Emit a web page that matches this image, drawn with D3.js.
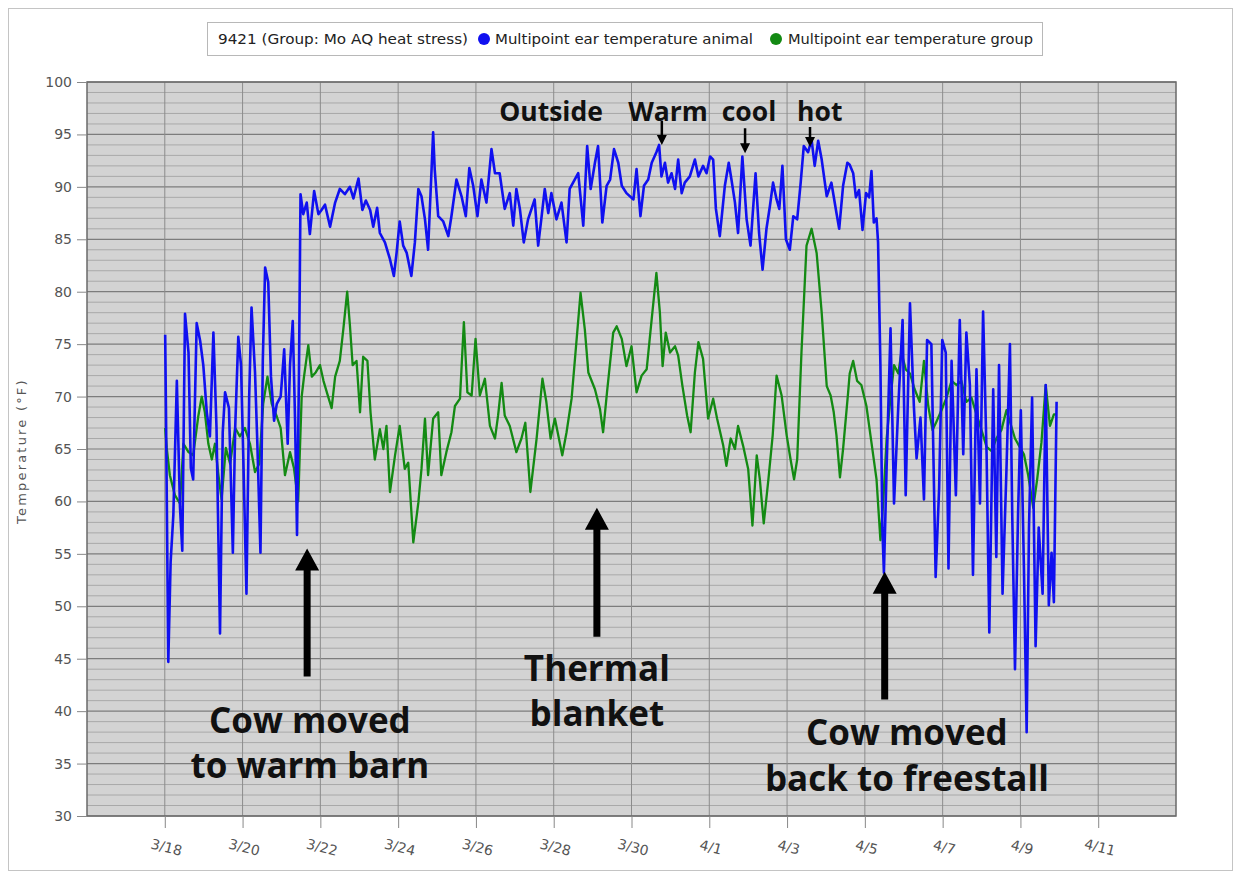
<!DOCTYPE html>
<html>
<head>
<meta charset="utf-8">
<script src="https://cdn.jsdelivr.net/npm/d3@7"></script>
<style>
    body { margin: 0; background: #fff; }
    .tick-label { font-family: "DejaVu Sans", sans-serif; font-size: 14px; fill: #555; }
    .legend-text { font-family: "DejaVu Sans", sans-serif; font-size: 13.5px; fill: #222; }
    .note { font-family: "Open Sans", sans-serif; font-weight: 700; fill: #111; }
</style>
</head>
<body>
<div id="chart" style="width:1241px;height:880px;"></div>
<script>

// day values are "day of March" (32 = April 1)
const animalDay = [18.01,18.03,18.09,18.15,18.22,18.31,18.39,18.45,18.52,18.61,18.67,18.73,18.82,18.91,18.99,19.08,19.16,19.25,19.33,19.42,
    19.49,19.55,19.65,19.75,19.81,19.89,19.96,20.02,20.10,20.17,20.23,20.32,20.38,20.46,20.52,20.58,20.66,20.73,20.81,20.88,
    20.98,21.07,21.16,21.22,21.29,21.35,21.40,21.45,21.49,21.56,21.65,21.73,21.84,21.95,22.03,22.12,22.25,22.38,22.50,22.63,
    22.76,22.85,22.98,23.08,23.17,23.28,23.36,23.46,23.53,23.66,23.79,23.89,23.96,24.04,24.13,24.22,24.34,24.43,24.52,24.60,
    24.69,24.77,24.86,24.90,24.94,25.03,25.16,25.29,25.37,25.50,25.63,25.74,25.83,25.93,26.04,26.14,26.27,26.40,26.49,26.61,
    26.74,26.87,26.96,27.04,27.13,27.23,27.34,27.43,27.51,27.60,27.69,27.77,27.86,27.94,28.07,28.20,28.33,28.41,28.54,28.63,
    28.76,28.86,28.95,29.06,29.14,29.25,29.36,29.45,29.55,29.66,29.75,29.87,30.05,30.13,30.23,30.32,30.43,30.52,30.64,30.71,
    30.77,30.86,30.94,31.03,31.12,31.20,31.29,31.37,31.50,31.63,31.72,31.84,31.93,32.02,32.10,32.17,32.27,32.40,32.50,32.57,
    32.66,32.74,32.85,32.96,33.06,33.19,33.28,33.37,33.47,33.56,33.64,33.73,33.80,33.88,33.97,34.07,34.16,34.26,34.35,34.43,
    34.54,34.63,34.71,34.80,34.89,35.02,35.14,35.27,35.34,35.44,35.55,35.61,35.70,35.77,35.85,35.94,36.03,36.11,36.17,36.23,
    36.30,36.34,36.40,36.45,36.49,36.56,36.66,36.75,36.86,36.97,37.05,37.16,37.26,37.33,37.43,37.52,37.60,37.71,37.82,37.91,
    37.99,38.08,38.15,38.23,38.34,38.44,38.53,38.61,38.70,38.78,38.87,38.96,39.04,39.13,39.20,39.30,39.38,39.45,39.54,39.64,
    39.73,39.79,39.86,39.94,40.01,40.09,40.16,40.22,40.30,40.39,40.47,40.57,40.65,40.73,40.80,40.86,40.93];

const animalTemp = [75.9,68.9,44.7,54.2,58.7,71.5,59.5,55.3,77.9,74.2,63.2,62.1,77.0,75.3,73.0,68.5,66.2,76.1,67.0,47.4,
    66.6,70.4,68.9,55.1,67.0,75.7,73.0,64.0,51.2,70.0,78.5,72.3,65.5,55.1,73.4,82.3,80.9,71.9,67.7,69.3,
    70.0,74.5,65.5,73.0,77.2,67.7,56.8,72.3,89.3,87.4,88.5,85.5,89.6,87.4,87.8,88.3,86.2,88.5,89.8,89.3,
    90.0,88.9,90.8,87.8,88.7,87.8,86.2,88.0,85.6,84.7,83.1,81.5,83.7,86.7,84.4,83.7,81.5,84.7,89.8,89.1,
    86.9,84.0,91.7,95.2,91.7,87.2,86.7,85.3,87.2,90.7,89.1,87.2,91.8,90.1,87.2,90.7,88.5,93.6,91.3,91.3,
    87.9,89.4,86.3,89.8,87.9,84.7,86.9,87.9,88.8,84.4,87.2,89.8,87.5,89.4,86.9,88.5,84.7,89.8,90.7,91.3,
    86.3,93.9,89.8,92.3,93.9,86.6,90.1,90.7,93.6,92.3,90.1,89.4,88.8,91.7,87.2,90.1,90.7,92.3,93.3,94.0,
    91.0,92.3,90.4,91.3,89.8,92.6,89.4,90.4,91.0,92.6,91.0,92.0,91.3,92.9,92.6,87.9,85.3,90.1,92.3,90.7,
    88.5,85.6,92.9,86.9,84.4,91.3,85.6,82.1,86.0,88.2,90.4,88.8,87.9,92.0,85.0,84.0,87.2,86.9,90.4,93.9,
    93.3,94.5,92.0,94.4,92.6,89.1,90.4,87.5,86.0,90.1,92.3,92.1,91.3,89.0,89.7,85.9,89.4,89.0,91.5,86.6,
    87.0,84.7,73.0,57.5,53.2,63.3,76.5,59.8,69.1,77.3,60.6,78.9,69.1,64.1,68.0,60.2,75.4,75.0,52.8,61.3,
    75.4,74.2,53.6,73.4,60.6,77.3,64.5,76.1,71.1,53.0,72.6,59.8,78.1,64.5,47.5,70.7,54.7,73.0,51.2,62.9,
    75.0,58.6,44.0,59.0,68.7,53.6,38.0,57.5,69.9,46.2,57.5,51.2,71.1,50.1,55.1,50.4,69.5];

const groupDay = [18.01,18.05,18.13,18.26,18.39,18.48,18.61,18.73,18.86,18.95,19.03,19.12,19.21,19.29,19.38,19.46,19.57,19.68,19.81,19.93,
    20.06,20.19,20.32,20.43,20.53,20.64,20.75,20.88,20.98,21.09,21.22,21.32,21.43,21.52,21.58,21.69,21.78,21.88,21.99,22.08,
    22.20,22.29,22.38,22.50,22.59,22.69,22.76,22.83,22.93,23.02,23.10,23.21,23.29,23.40,23.53,23.62,23.70,23.79,23.92,24.04,
    24.17,24.26,24.39,24.52,24.60,24.69,24.77,24.90,25.03,25.11,25.24,25.37,25.46,25.59,25.69,25.78,25.89,25.99,26.10,26.23,
    26.36,26.49,26.57,26.66,26.74,26.87,27.04,27.17,27.27,27.40,27.56,27.71,27.81,27.92,28.03,28.22,28.33,28.46,28.59,28.69,
    28.80,28.89,29.06,29.19,29.27,29.37,29.53,29.62,29.75,29.87,30.00,30.13,30.26,30.39,30.52,30.64,30.73,30.80,30.88,30.99,
    31.12,31.20,31.31,31.43,31.52,31.63,31.72,31.84,31.97,32.10,32.20,32.36,32.44,32.55,32.66,32.74,32.87,33.00,33.11,33.22,
    33.30,33.40,33.52,33.63,33.73,33.86,33.99,34.09,34.18,34.26,34.37,34.50,34.63,34.76,34.89,35.02,35.12,35.20,35.27,35.36,
    35.44,35.57,35.61,35.70,35.80,35.91,36.04,36.17,36.30,36.40,36.47,36.56,36.66,36.75,36.86,36.94,37.05,37.16,37.28,37.41,
    37.52,37.63,37.74,37.84,37.97,38.10,38.23,38.36,38.48,38.61,38.74,38.87,39.00,39.13,39.26,39.38,39.51,39.64,39.73,39.86,
    39.98,40.09,40.20,40.33,40.43,40.54,40.65,40.76,40.86,40.93];

const groupTemp = [67.0,65.1,62.5,60.6,59.8,65.5,64.7,64.4,68.1,70.0,68.5,65.5,64.0,65.5,62.5,60.2,65.1,63.6,67.0,66.2,
    67.0,65.5,62.8,63.6,69.3,71.9,69.3,68.1,67.0,62.5,64.7,63.2,60.0,70.0,71.9,74.9,71.9,72.3,73.0,71.5,
    70.0,68.9,71.9,73.4,76.4,80.0,76.8,73.0,73.4,68.5,73.8,73.4,68.5,64.0,66.9,65.0,67.2,60.9,64.4,67.2,
    63.1,63.7,56.1,59.9,63.1,67.9,62.5,67.9,68.5,62.5,64.7,66.6,69.1,69.8,77.1,70.4,70.1,75.5,70.1,71.7,
    67.2,66.0,68.2,71.3,68.2,67.2,64.7,66.0,67.5,60.9,66.0,71.7,69.5,66.0,67.9,64.4,66.6,69.8,75.5,79.9,
    76.4,72.3,70.7,68.8,66.6,70.4,76.1,76.7,75.5,72.9,74.8,70.4,72.0,72.6,77.4,81.8,78.0,72.9,76.1,74.2,
    74.8,73.9,71.0,68.2,66.6,72.3,75.2,73.6,67.9,69.8,67.9,65.3,63.4,66.0,65.0,67.2,65.3,63.1,57.7,64.4,
    62.1,57.9,62.1,66.3,72.0,70.1,66.3,64.0,62.1,64.0,74.2,84.4,86.0,83.7,78.0,71.0,70.1,68.5,66.3,62.3,
    65.0,70.4,72.2,73.4,71.5,71.1,69.1,65.6,62.1,56.3,59.8,66.0,69.9,73.0,72.2,74.2,72.6,72.2,70.7,69.5,
    73.4,69.1,66.8,67.6,68.7,69.9,71.5,71.1,71.5,69.5,69.9,68.3,66.8,65.2,64.8,66.0,66.8,68.7,67.6,66.0,
    65.2,64.5,62.5,59.4,62.1,65.6,71.1,67.2,68.3,68.3];

const xTicks = [18, 20, 22, 24, 26, 28, 30, 32, 34, 36, 38, 40, 42];
const yTicks = d3.range(30, 101, 5);

const legendLabels = ["9421 (Group: Mo AQ heat stress)", "Multipoint ear temperature animal", "Multipoint ear temperature group"];
const seriesColors = ["#1010f0", "#138a13"];

// annotations, placed in data space (day, °F)
const noteText = ["Cow moved", "to warm barn", "Thermal", "blanket", "Cow moved", "back to freestall", "Outside", "Warm", "cool", "hot"];
const noteDay  = [21.73, 21.73, 29.11, 29.11, 37.08, 37.08, 27.93, 30.94, 33.02, 34.84];
const noteTemp = [37.9, 33.6, 42.9, 38.6, 36.8, 32.4, 96.25, 96.25, 96.25, 96.25];
const arrowDay  = [21.66, 29.11, 36.51, 30.78, 32.92, 34.59];
const arrowTail = [43.3, 47.1, 41.1, 96.3, 95.6, 95.7];
const arrowTip  = [55.5, 59.4, 53.3, 94.0, 93.2, 93.8];


class TempChart {

    constructor(parentElement) {
        this.parentElement = parentElement;
        this.initVis();
    }

    initVis() {
        let vis = this;

        vis.margin = {top: 82, right: 65, bottom: 64, left: 87};
        vis.width = 1241 - vis.margin.left - vis.margin.right;
        vis.height = 880 - vis.margin.top - vis.margin.bottom;

        vis.root = d3.select("#" + vis.parentElement)
            .append("svg")
            .attr("width", 1241)
            .attr("height", 880);

        // outer frame
        vis.root.append("rect")
            .attr("x", 8.5).attr("y", 8.5)
            .attr("width", 1224).attr("height", 862)
            .attr("fill", "#fff")
            .attr("stroke", "#c4c4c4");

        vis.svg = vis.root.append("g")
            .attr("transform", `translate(${vis.margin.left},${vis.margin.top})`);

        vis.x = d3.scaleLinear().domain([16, 44]).range([0, vis.width]);
        vis.y = d3.scaleLinear().domain([30, 100]).range([vis.height, 0]);

        vis.wrangleData();
    }

    wrangleData() {
        let vis = this;
        vis.animal = d3.zip(animalDay, animalTemp);
        vis.group = d3.zip(groupDay, groupTemp);
        vis.updateVis();
    }

    updateVis() {
        let vis = this;

        vis.svg.append("rect")
            .attr("width", vis.width)
            .attr("height", vis.height)
            .attr("fill", "#d3d3d3");

        // minor horizontal grid, every degree
        vis.svg.append("g").selectAll("line")
            .data(d3.range(31, 100).filter(d => d % 5 !== 0))
            .enter().append("line")
            .attr("x1", 0).attr("x2", vis.width)
            .attr("y1", d => vis.y(d)).attr("y2", d => vis.y(d))
            .attr("stroke", "#a9a9a9")
            .attr("stroke-width", 1);

        // major horizontal grid
        vis.svg.append("g").selectAll("line")
            .data(yTicks)
            .enter().append("line")
            .attr("x1", 0).attr("x2", vis.width)
            .attr("y1", d => vis.y(d)).attr("y2", d => vis.y(d))
            .attr("stroke", "#7c7c7c")
            .attr("stroke-width", 1.2);

        vis.svg.append("g").selectAll("line")
            .data(xTicks)
            .enter().append("line")
            .attr("x1", d => vis.x(d)).attr("x2", d => vis.x(d))
            .attr("y1", 0).attr("y2", vis.height)
            .attr("stroke", "#8c8c8c")
            .attr("stroke-width", 1);

        vis.svg.append("rect")
            .attr("width", vis.width)
            .attr("height", vis.height)
            .attr("fill", "none")
            .attr("stroke", "#6a6a6a")
            .attr("stroke-width", 1.5);

        // axes
        let yAxis = d3.axisLeft(vis.y).tickValues(yTicks).tickSize(10).tickPadding(5);
        let yG = vis.svg.append("g").call(yAxis);
        yG.select(".domain").remove();
        yG.selectAll("line").attr("stroke", "#888");
        yG.selectAll("text").attr("class", "tick-label");

        let fmt = d => d <= 31 ? `3/${d}` : `4/${d - 31}`;
        let xAxis = d3.axisBottom(vis.x).tickValues(xTicks).tickSize(12).tickFormat(fmt);
        let xG = vis.svg.append("g")
            .attr("transform", `translate(0,${vis.height})`)
            .call(xAxis);
        xG.select(".domain").remove();
        xG.selectAll("line").attr("stroke", "#888");
        xG.selectAll("text")
            .attr("class", "tick-label")
            .attr("y", 0).attr("dy", 0)
            .attr("transform", "translate(0,36) rotate(14)");

        vis.root.append("text")
            .attr("class", "tick-label")
            .attr("transform", `translate(26,${vis.margin.top + vis.y(64.8)}) rotate(-90)`)
            .attr("text-anchor", "middle")
            .style("font-size", "13px")
            .style("letter-spacing", "2.2px")
            .text("Temperature (°F)");

        // series
        let line = d3.line()
            .x(d => vis.x(d[0]))
            .y(d => vis.y(d[1]));

        vis.svg.append("path")
            .datum(vis.group)
            .attr("d", line)
            .attr("fill", "none")
            .attr("stroke", seriesColors[1])
            .attr("stroke-width", 2.3)
            .attr("stroke-linejoin", "round");

        vis.svg.append("path")
            .datum(vis.animal)
            .attr("d", line)
            .attr("fill", "none")
            .attr("stroke", seriesColors[0])
            .attr("stroke-width", 2.6)
            .attr("stroke-linejoin", "round");

        // annotations
        let arrowPath = function(i) {
            let big = i < 3;
            let shaft = big ? 7 : 2.5, headW = big ? 24 : 10, headH = big ? 22 : 10;
            let cx = vis.x(arrowDay[i]), y0 = vis.y(arrowTail[i]), y1 = vis.y(arrowTip[i]);
            let dir = y1 < y0 ? 1 : -1;
            let yb = y1 + dir * headH;
            return `M${cx - shaft / 2},${y0} L${cx - shaft / 2},${yb} L${cx - headW / 2},${yb} L${cx},${y1} ` +
                `L${cx + headW / 2},${yb} L${cx + shaft / 2},${yb} L${cx + shaft / 2},${y0} Z`;
        };

        vis.svg.append("g").selectAll("path")
            .data(d3.range(arrowDay.length))
            .enter().append("path")
            .attr("d", i => arrowPath(i))
            .attr("fill", "#000");

        vis.svg.append("g").selectAll("text")
            .data(d3.range(noteText.length))
            .enter().append("text")
            .attr("class", "note")
            .attr("x", i => vis.x(noteDay[i]))
            .attr("y", i => vis.y(noteTemp[i]))
            .attr("text-anchor", "middle")
            .style("font-size", i => i < 6 ? "35px" : "26.5px")
            .text(i => noteText[i]);

        // legend
        let lg = vis.root.append("g");
        lg.append("rect")
            .attr("x", 207.5).attr("y", 22.5)
            .attr("width", 835).attr("height", 33)
            .attr("fill", "#fff")
            .attr("stroke", "#b8b8b8");
        lg.append("text").attr("class", "legend-text").attr("x", 218).attr("y", 44)
            .attr("textLength", 250).attr("lengthAdjust", "spacingAndGlyphs").text(legendLabels[0]);
        lg.append("circle").attr("cx", 484).attr("cy", 39).attr("r", 6).attr("fill", seriesColors[0]);
        lg.append("text").attr("class", "legend-text").attr("x", 495).attr("y", 44)
            .attr("textLength", 258).attr("lengthAdjust", "spacingAndGlyphs").text(legendLabels[1]);
        lg.append("circle").attr("cx", 776).attr("cy", 39).attr("r", 6).attr("fill", seriesColors[1]);
        lg.append("text").attr("class", "legend-text").attr("x", 788).attr("y", 44)
            .attr("textLength", 245).attr("lengthAdjust", "spacingAndGlyphs").text(legendLabels[2]);
    }
}

new TempChart("chart");
</script>
</body>
</html>
